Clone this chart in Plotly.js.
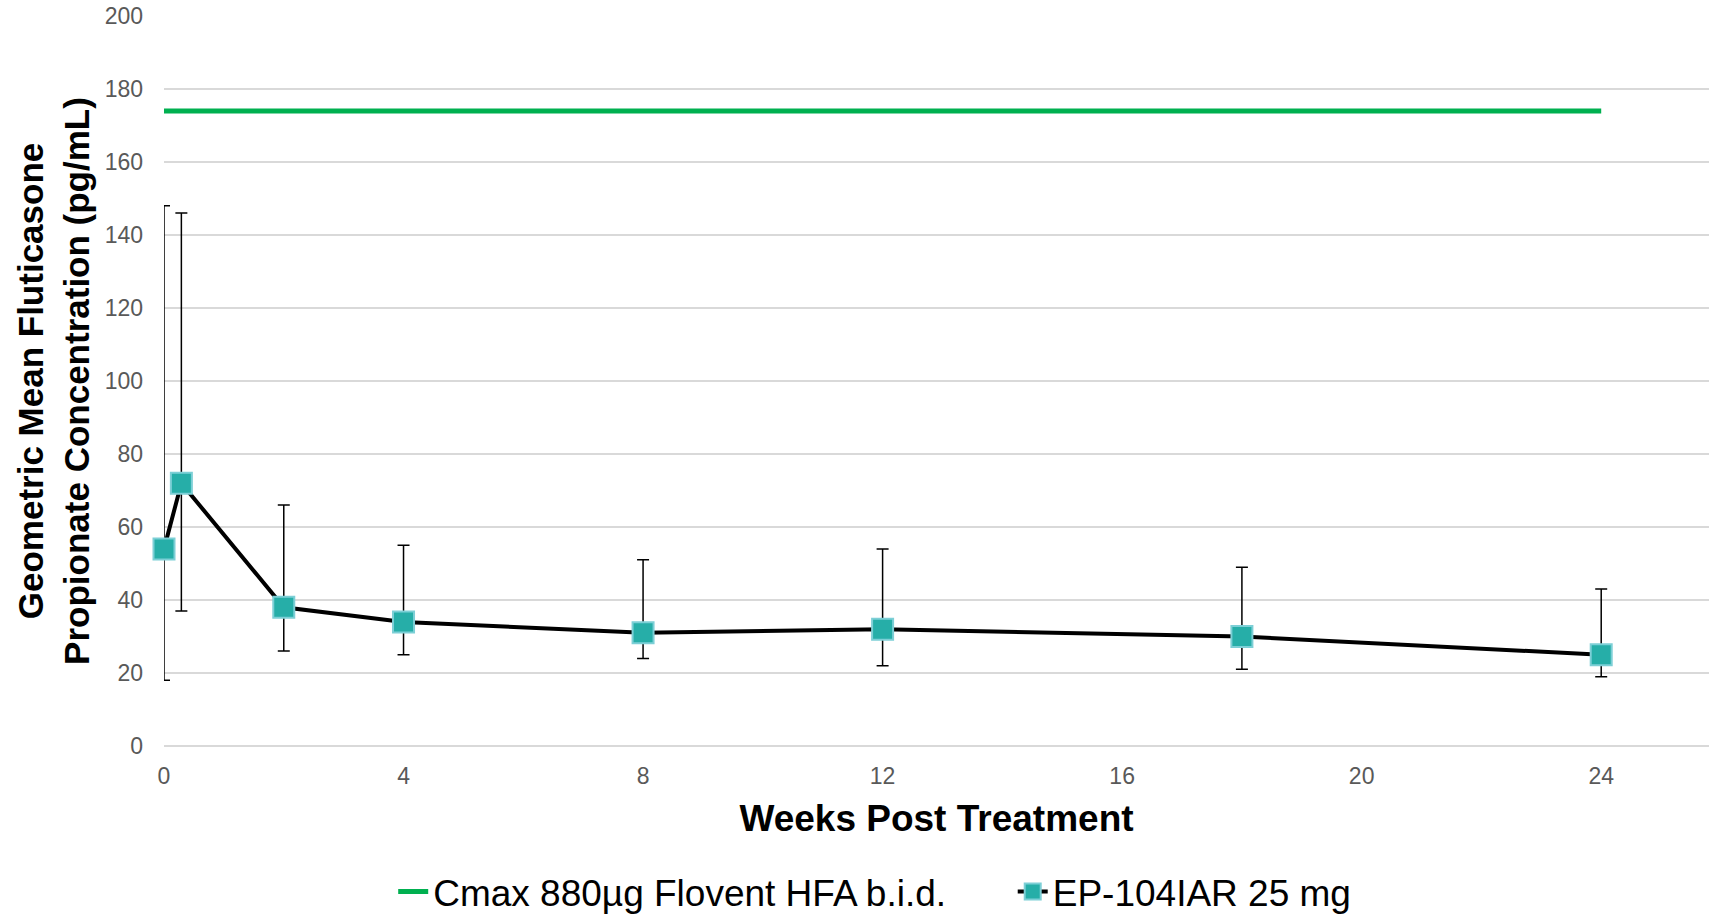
<!DOCTYPE html>
<html>
<head>
<meta charset="utf-8">
<script src="https://cdn.plot.ly/plotly-3.0.1.min.js"></script>
<style>html,body{margin:0;padding:0;background:#fff;}#chart{width:1709px;height:921px;}</style>
</head>
<body>
<div id="chart"></div>
<script>
// Data
const weeks   = [0, 0.29, 2, 4, 8, 12, 18, 24];
const geoMean = [54, 72, 38, 34, 31, 32, 30, 25];
const upper   = [148, 146, 66, 55, 51, 54, 49, 43];
const lower   = [18, 37, 26, 25, 24, 22, 21, 19];
const cmaxWeeks = [0, 24];
const cmaxVals  = [174, 174];
const xTicks = [0, 4, 8, 12, 16, 20, 24];
const yTicks = [0, 20, 40, 60, 80, 100, 120, 140, 160, 180, 200];

const errPlus  = upper.map((u, i) => u - geoMean[i]);
const errMinus = lower.map((l, i) => geoMean[i] - l);

const FONT = '"Liberation Sans", Arial, sans-serif';
const GAP = '\u00a0\u00a0\u00a0\u00a0\u00a0\u00a0';

const traces = [
  {
    x: cmaxWeeks, y: cmaxVals, type: 'scatter', mode: 'lines',
    name: 'Cmax 880µg Flovent HFA b.i.d.' + GAP,
    line: {color: '#00b050', width: 5},
    hoverinfo: 'x+y'
  },
  {
    x: weeks, y: geoMean, type: 'scatter', mode: 'lines+markers',
    name: 'EP-104IAR 25 mg',
    line: {color: '#000000', width: 4},
    marker: {symbol: 'square', size: 21, color: '#26aea8', line: {color: '#7dcfd6', width: 2}},
    error_y: {type: 'data', symmetric: false, array: errPlus, arrayminus: errMinus,
              color: '#000000', thickness: 1.5, width: 6},
    cliponaxis: false
  }
];

const layout = {
  width: 1709, height: 921,
  margin: {l: 164, r: 0, t: 16, b: 175, autoexpand: false},
  paper_bgcolor: '#ffffff', plot_bgcolor: '#ffffff',
  font: {family: FONT, color: '#595959', size: 23},
  showlegend: true,
  legend: {
    orientation: 'h', x: 0.46, xanchor: 'center', y: -0.2, yanchor: 'middle',
    font: {family: FONT, size: 37, color: '#000000'},
    tracegroupgap: 0
  },
  xaxis: {
    range: [0, 25.8], tickmode: 'array', tickvals: xTicks, ticktext: xTicks.map(String),
    showgrid: false, zeroline: false, showline: false, ticks: '',
    ticklabelstandoff: 14,
    tickfont: {size: 23, color: '#595959'},
    title: {text: 'Weeks Post Treatment', font: {family: FONT, size: 37, color: '#000000', weight: 'bold'}, standoff: 17}
  },
  yaxis: {
    range: [0, 200], tickmode: 'array', tickvals: yTicks, ticktext: yTicks.map(String),
    showgrid: true, gridcolor: '#d9d9d9', gridwidth: 1.5,
    zeroline: true, zerolinecolor: '#d9d9d9', zerolinewidth: 1.5,
    showline: false, ticks: '', ticklabelstandoff: 20,
    tickfont: {size: 23, color: '#595959'},
    title: {text: 'Geometric Mean Fluticasone<br>Propionate Concentration (pg/mL)',
            font: {family: FONT, size: 35, color: '#000000', weight: 'bold'}, standoff: 4}
  }
};

Plotly.newPlot('chart', traces, layout, {displayModeBar: false, responsive: false});
</script>
</body>
</html>
